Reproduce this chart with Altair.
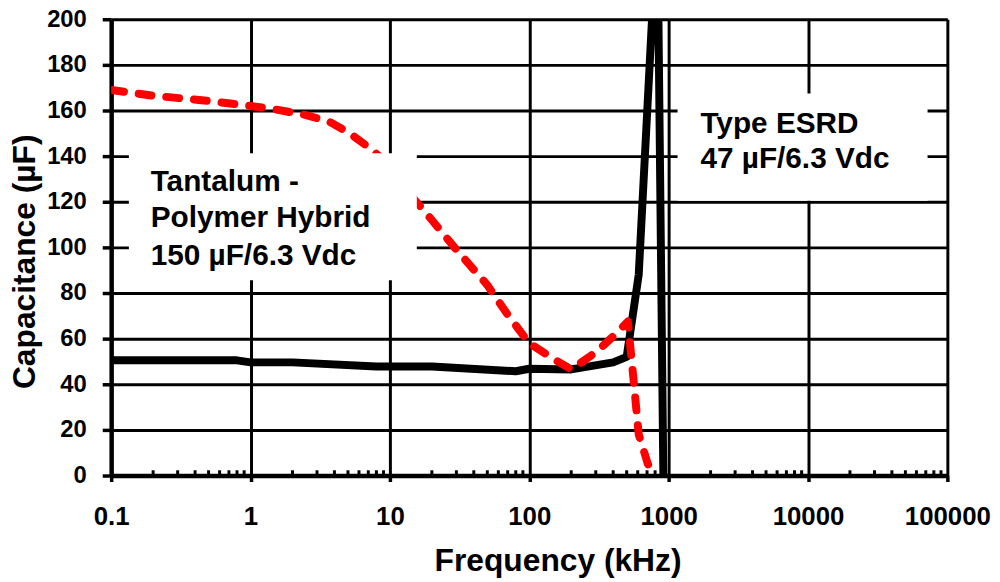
import altair as alt
import pandas as pd

# ESRD (black solid)
black_freq = [0.1, 0.8, 1, 2, 8, 20, 80, 100, 200, 400, 500, 610, 830, 920]
black_cap = [50.5, 50.5, 49.6, 49.6, 47.8, 47.8, 45.7, 46.8, 46.5, 49.6, 52, 88, 245, -10]

# Tantalum-Polymer Hybrid (red dashed)
red_freq = [0.1, 0.2, 0.5, 1, 1.5, 2.5, 3.7, 5, 7, 10, 15, 20, 30, 50, 70, 100,
            150, 200, 300, 400, 510, 560, 610, 710, 800]
red_cap = [169, 166.5, 164.2, 162, 160.5, 158, 155, 150.5, 144, 136, 121, 112, 99,
           83.5, 70.5, 58, 51, 46.5, 54, 61, 67.5, 42, 18, 5, 0]

x_ticks = [0.1, 1, 10, 100, 1000, 10000, 100000]
y_ticks = [0, 20, 40, 60, 80, 100, 120, 140, 160, 180, 200]
minor_ticks = [m * d for d in [0.1, 1, 10, 100, 1000, 10000] for m in range(2, 10)]

# annotation boxes (data coordinates)
box_f1 = [0.134, 1159]
box_f2 = [15.6, 72100]
box_c1 = [85.6, 120.4]
box_c2 = [141.3, 167.4]

ann_text = ["Tantalum -", "Polymer Hybrid", "150 µF/6.3 Vdc", "Type ESRD", "47 µF/6.3 Vdc"]
ann_freq = [0.192, 0.192, 0.192, 1690, 1690]
ann_cap = [124.5, 108.8, 92.2, 150.0, 134.8]

FONT = "Liberation Sans"

black_df = pd.DataFrame({"freq": black_freq, "cap": black_cap})
red_df = pd.DataFrame({"freq": red_freq, "cap": red_cap})
minor_df = pd.DataFrame({"freq": minor_ticks})
box_df = pd.DataFrame({"freq": box_f1, "freq2": box_f2, "cap": box_c1, "cap2": box_c2})
ann_df = pd.DataFrame({"freq": ann_freq, "cap": ann_cap, "text": ann_text})

xs = alt.Scale(type="log", domain=[0.1, 100000], nice=False)
ys = alt.Scale(domain=[0, 200], nice=False, zero=False)

xaxis = alt.Axis(
    values=x_ticks,
    labelExpr="datum.value < 1 ? '0.1' : format(datum.value, 'd')",
    grid=True, gridColor="black", gridWidth=3, gridOpacity=1,
    tickColor="black", tickWidth=3.5, tickSize=6,
    domainColor="black", domainWidth=4.5,
    labelFont=FONT, labelFontSize=26, labelFontWeight="bold", labelColor="black",
    labelPadding=22, labelFlush=False, labelOverlap=False,
    title="Frequency (kHz)", titleFont=FONT, titleFontSize=32, titleFontWeight="bold",
    titleColor="black", titleX=450, titleY=96, titleAlign="center", titleBaseline="alphabetic",
)
yaxis = alt.Axis(
    values=y_ticks,
    grid=True, gridColor="black", gridWidth=3, gridOpacity=1,
    tickColor="black", tickWidth=3.5, tickSize=9,
    domainColor="black", domainWidth=4.5,
    labelFont=FONT, labelFontSize=24, labelFontWeight="bold", labelColor="black",
    labelPadding=16, labelFlush=False, labelOverlap=False,
    title="Capacitance (µF)", titleFont=FONT, titleFontSize=32, titleFontWeight="bold",
    titleColor="black", titleAngle=270, titleX=-77, titleY=244, titleAlign="center",
    titleBaseline="alphabetic",
)

X = alt.X("freq:Q", scale=xs, axis=xaxis)
Y = alt.Y("cap:Q", scale=ys, axis=yaxis)

minor = alt.Chart(minor_df).mark_rule(color="black", strokeWidth=3).encode(
    x=X, y=alt.datum(0), y2=alt.datum(2.3)
)

black = alt.Chart(black_df).mark_line(color="black", strokeWidth=8, clip=True,
                                       strokeJoin="round").encode(x=X, y=Y)

red = alt.Chart(red_df).mark_line(color="#ff0000", strokeWidth=8, clip=True,
                                   strokeDash=[13, 15], strokeCap="round",
                                   strokeJoin="round").encode(x=X, y=Y)

boxes = alt.Chart(box_df).mark_rect(color="white", opacity=1).encode(
    x=X, x2="freq2:Q", y=Y, y2="cap2:Q"
)

texts = alt.Chart(ann_df).mark_text(
    align="left", baseline="alphabetic", font=FONT, fontSize=30, fontWeight="bold",
    color="black"
).encode(x=X, y=Y, text="text:N")

chart = alt.layer(minor, black, red, boxes, texts).properties(
    width=843, height=460,
    padding={"left": 104, "top": 9, "right": 45, "bottom": 105},
    autosize=alt.AutoSizeParams(type="none"),
).configure_view(stroke="black", strokeWidth=4.5).configure(background="white")

chart.save("out.html", embed_options={"renderer": "svg", "actions": False})
